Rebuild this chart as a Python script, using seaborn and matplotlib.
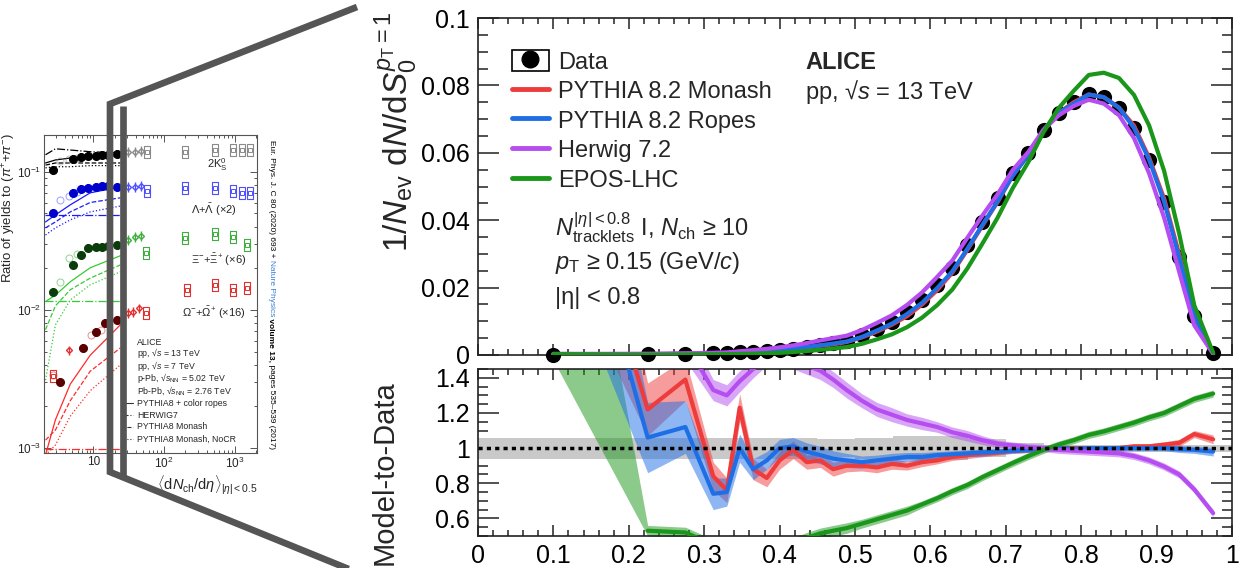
import numpy as np
import pandas as pd
import matplotlib
matplotlib.use("Agg")
import matplotlib.pyplot as plt
import seaborn as sns
from matplotlib.lines import Line2D
from matplotlib.patches import Rectangle
from matplotlib.legend_handler import HandlerTuple
from matplotlib.ticker import (MultipleLocator, FixedLocator, FixedFormatter,
                               FuncFormatter, LogLocator, NullFormatter)

sns.set_theme(style="ticks")
plt.rcParams['font.family'] = ['Liberation Sans', 'DejaVu Sans']
plt.rcParams['mathtext.fontset'] = 'custom'
plt.rcParams['mathtext.rm'] = 'Liberation Sans'
plt.rcParams['mathtext.it'] = 'Liberation Sans:italic'
plt.rcParams['mathtext.bf'] = 'Liberation Sans:bold'
plt.rcParams['mathtext.sf'] = 'Liberation Sans'

# ---------------- main chart data (spherocity) ----------------
so_x = [0.100, 0.225, 0.275, 0.312, 0.330, 0.347, 0.365, 0.383, 0.400, 0.418,
        0.436, 0.454, 0.471, 0.489, 0.509, 0.529, 0.549, 0.569, 0.589, 0.609,
        0.629, 0.649, 0.669, 0.689, 0.709, 0.730, 0.750, 0.770, 0.790, 0.810,
        0.830, 0.850, 0.870, 0.890, 0.910, 0.930, 0.950, 0.975]
so_data = [0.0001, 0.0002, 0.0003, 0.0005, 0.0006, 0.0008, 0.0010, 0.0012, 0.0015, 0.0019,
           0.0024, 0.0030, 0.0036, 0.0043, 0.0058, 0.0078, 0.0099, 0.0128, 0.0163, 0.0207,
           0.0257, 0.0325, 0.0396, 0.0465, 0.0540, 0.0600, 0.0668, 0.0718, 0.0750, 0.0773,
           0.0765, 0.0734, 0.0674, 0.0580, 0.0455, 0.0290, 0.0115, 0.0005]

ratio_monash = [3.00, 1.22, 1.39, 0.84, 0.76, 1.23, 0.88, 0.83, 0.93, 0.99,
                0.92, 0.93, 0.88, 0.90, 0.90, 0.89, 0.91, 0.90, 0.92, 0.93,
                0.95, 0.96, 0.97, 0.975, 0.985, 0.99, 1.00, 1.00, 1.00, 1.00,
                1.00, 1.00, 1.01, 1.01, 1.02, 1.03, 1.08, 1.05]
ratio_ropes = [3.00, 1.06, 1.12, 0.74, 0.75, 1.00, 0.88, 0.93, 1.00, 1.01,
               0.98, 0.96, 0.94, 0.93, 0.92, 0.93, 0.94, 0.95, 0.95, 0.96,
               0.965, 0.97, 0.975, 0.98, 0.985, 0.99, 1.00, 1.00, 0.995, 1.00,
               1.00, 1.00, 1.00, 1.00, 1.00, 0.995, 0.99, 0.98]
ratio_herwig = [3.00, 1.90, 1.60, 1.33, 1.30, 1.38, 1.45, 1.52, 1.52, 1.50,
                1.47, 1.44, 1.39, 1.33, 1.27, 1.22, 1.19, 1.16, 1.14, 1.12,
                1.09, 1.07, 1.045, 1.025, 1.015, 1.005, 1.00, 0.99, 0.985, 0.98,
                0.975, 0.97, 0.955, 0.93, 0.895, 0.85, 0.765, 0.63]
ratio_epos = [2.50, 0.53, 0.52, 0.45, 0.42, 0.40, 0.40, 0.41, 0.43, 0.46,
              0.49, 0.515, 0.53, 0.545, 0.57, 0.595, 0.62, 0.645, 0.68, 0.715,
              0.755, 0.79, 0.835, 0.875, 0.915, 0.955, 0.99, 1.02, 1.045, 1.075,
              1.095, 1.12, 1.145, 1.175, 1.20, 1.24, 1.28, 1.31]

err_monash = [0.80, 0.15, 0.12, 0.08, 0.07, 0.08, 0.06, 0.05, 0.05, 0.05,
              0.04, 0.04, 0.04, 0.035, 0.03, 0.03, 0.03, 0.025, 0.025, 0.02,
              0.02, 0.02, 0.02, 0.015, 0.015, 0.015, 0.015, 0.015, 0.015, 0.015,
              0.015, 0.015, 0.015, 0.015, 0.015, 0.02, 0.02, 0.025]
err_ropes = [0.80, 0.20, 0.15, 0.09, 0.08, 0.08, 0.06, 0.05, 0.05, 0.05,
             0.05, 0.05, 0.045, 0.04, 0.035, 0.03, 0.03, 0.025, 0.025, 0.02,
             0.02, 0.02, 0.02, 0.015, 0.015, 0.015, 0.015, 0.015, 0.015, 0.015,
             0.015, 0.015, 0.015, 0.015, 0.015, 0.02, 0.02, 0.025]
err_herwig = [0.80, 0.15, 0.10, 0.06, 0.06, 0.06, 0.05, 0.05, 0.05, 0.05,
              0.05, 0.05, 0.045, 0.045, 0.04, 0.04, 0.04, 0.035, 0.035, 0.03,
              0.03, 0.03, 0.025, 0.02, 0.02, 0.02, 0.02, 0.02, 0.02, 0.02,
              0.02, 0.02, 0.02, 0.02, 0.02, 0.02, 0.02, 0.02]
err_epos = [1.00, 0.03, 0.03, 0.03, 0.03, 0.03, 0.03, 0.03, 0.03, 0.03,
            0.03, 0.03, 0.03, 0.03, 0.025, 0.025, 0.025, 0.025, 0.02, 0.02,
            0.02, 0.02, 0.02, 0.02, 0.02, 0.02, 0.02, 0.02, 0.02, 0.02,
            0.02, 0.02, 0.02, 0.02, 0.02, 0.02, 0.02, 0.02]

# data uncertainty band in the ratio panel
band_x = [0.0, 0.45, 0.50, 0.55, 0.60, 0.65, 0.70, 0.75, 1.0]
band_half = [0.06, 0.05, 0.06, 0.07, 0.07, 0.05, 0.03, 0.02, 0.02]

model_names = ['PYTHIA 8.2 Monash', 'PYTHIA 8.2 Ropes', 'Herwig 7.2', 'EPOS-LHC']
model_colors = ['#ee3b3b', '#1e6fe6', '#b54df0', '#1a961a']

# ---------------- inset data (strangeness enhancement) ----------------
mult_pp13 = [2.7, 5.1, 6.6, 8.5, 10.7, 13.4, 16.3, 21.8]
k0s_pp13 = [0.103, 0.124, 0.128, 0.131, 0.131, 0.133, 0.133, 0.135]
lam_pp13 = [0.0505, 0.0705, 0.0753, 0.0766, 0.0779, 0.0792, 0.0792, 0.0779]
xi_pp13 = [0.0135, 0.0212, 0.0251, 0.0281, 0.0286, 0.0286, 0.0291, 0.0296]
mult_om_pp13 = [3.4, 7.2, 10.7, 14.8, 21.8]
om_pp13 = [0.0030, 0.0053, 0.0069, 0.0081, 0.0085]

mult_pp7 = [3.4, 4.5, 5.8]
k0s_pp7 = [0.120, 0.124, 0.126]
lam_pp7 = [0.0627, 0.0670, 0.0716]
xi_pp7 = [0.0160, 0.0238, 0.0255]
mult_om_pp7 = [2.7, 9.1, 12.6]
om_pp7 = [0.0034, 0.0066, 0.0072]

mult_ppb = [31.1, 39.1, 47.4]
k0s_ppb = [0.140, 0.140, 0.142]
lam_ppb = [0.0779, 0.0779, 0.0792]
xi_ppb = [0.0322, 0.0338, 0.0344]
mult_om_ppb = [4.5, 31.1, 36.5, 44.5]
om_ppb = [0.0051, 0.0095, 0.0097, 0.0103]

mult_pbpb = [57.7, 198, 522, 937, 1256, 1626]
k0s_pbpb = [0.140, 0.140, 0.144, 0.144, 0.144, 0.144]
lam_pbpb = [0.0728, 0.0766, 0.0766, 0.0728, 0.0705, 0.0705]
mult_xi_pbpb = [55.7, 198, 522, 937, 1476]
xi_pbpb = [0.0259, 0.0332, 0.0356, 0.0338, 0.0296]
mult_om_pbpb = [2.7, 55.7, 211, 522, 937, 1476]
om_pbpb = [0.0033, 0.0095, 0.0140, 0.0152, 0.0140, 0.0145]

mult_model = [2.1, 2.9, 4.7, 9.0, 24.0]
k0s_ropes = [0.116, 0.122, 0.126, 0.128, 0.131]
k0s_herwig = [0.133, 0.147, 0.144, 0.140, 0.137]
k0s_monash = [0.112, 0.116, 0.116, 0.116, 0.116]
k0s_nocr = [0.107, 0.109, 0.109, 0.111, 0.111]
lam_ropes = [0.0434, 0.0488, 0.0577, 0.0705, 0.0779]
lam_herwig = [0.049, 0.049, 0.049, 0.049, 0.049]
lam_monash = [0.0393, 0.0434, 0.0513, 0.0600, 0.0649]
lam_nocr = [0.0349, 0.0393, 0.0449, 0.0513, 0.0566]
xi_ropes = [0.0115, 0.0128, 0.0160, 0.0202, 0.0247]
xi_herwig = [0.0116, 0.0116, 0.0116, 0.0116, 0.0116]
xi_monash = [0.0072, 0.0107, 0.0140, 0.0170, 0.0212]
xi_nocr = [0.0031, 0.0078, 0.0118, 0.0152, 0.0189]
om_ropes = [0.00089, 0.0016, 0.0029, 0.0047, 0.0078]
om_herwig = [0.00098, 0.00098, 0.00098, 0.00098, 0.00098]
om_monash = [0.00114, 0.00135, 0.0022, 0.0036, 0.0053]
om_nocr = [0.00089, 0.00105, 0.0017, 0.0026, 0.0040]

# ---------------- figure ----------------
W, H = 1248, 568
fig = plt.figure(figsize=(W / 100, H / 100), dpi=100)
fig.patch.set_facecolor('white')


def fx(px):
    return px / W


def fy(py):
    return 1 - py / H


ax1 = fig.add_axes([fx(478), fy(355), fx(1232) - fx(478), fy(18) - fy(355)])
ax2 = fig.add_axes([fx(478), fy(536), fx(1232) - fx(478), fy(369) - fy(536)])
ins = fig.add_axes([fx(44), fy(453), fx(257) - fx(44), fy(135) - fy(453)])

# ---- top panel ----
sns.scatterplot(x=so_x, y=so_data, ax=ax1, color='black', s=120, linewidth=0,
                zorder=3, clip_on=False, legend=False)
ratios = [ratio_monash, ratio_ropes, ratio_herwig, ratio_epos]
draw_order = [3, 0, 1, 2]
for i in draw_order:
    model_y = np.array(so_data) * np.array(ratios[i])
    sns.lineplot(x=so_x, y=model_y, ax=ax1, color=model_colors[i], lw=3,
                 zorder=4 + i, sort=False, estimator=None, legend=False)

ax1.set_xlim(0, 1)
ax1.set_ylim(0, 0.1)
ax1.xaxis.set_major_locator(MultipleLocator(0.1))
ax1.xaxis.set_minor_locator(MultipleLocator(0.02))
ax1.yaxis.set_major_locator(MultipleLocator(0.02))
ax1.yaxis.set_minor_locator(MultipleLocator(0.005))
ax1.yaxis.set_major_formatter(FuncFormatter(lambda v, p: f'{v:g}'))
ax1.set_xlabel('')
ax1.set_ylabel('')

data_handle = (Rectangle((0, 0), 1, 1, facecolor='white', edgecolor='black', lw=1.2),
               Line2D([], [], marker='o', color='black', ls='none', ms=12))
handles = [data_handle] + [Line2D([], [], color=c, lw=3.5) for c in model_colors]
labels = ['Data'] + model_names
ax1.legend(handles, labels, loc='upper left', bbox_to_anchor=(0.045, 0.905),
           frameon=False, fontsize=17, handlelength=1.55, handleheight=1.0,
           handletextpad=0.4, labelspacing=0.25, borderpad=0, borderaxespad=0,
           handler_map={tuple: HandlerTuple(ndivide=1)})

ax1.text(0.434, 0.869, 'ALICE', transform=ax1.transAxes, fontsize=17,
         fontweight='bold', va='center', ha='left')
ax1.text(0.434, 0.780, 'pp, √$s$ = 13 TeV', transform=ax1.transAxes, fontsize=17,
         va='center', ha='left')
ax1.text(0.102, 0.377, r'$N_{\rm tracklets}^{|\eta|<0.8}$ I, $N_{\rm ch}$ ≥ 10',
         transform=ax1.transAxes, fontsize=17, va='center', ha='left')
ax1.text(0.102, 0.273, r'$p_{\rm T}$ ≥ 0.15 (GeV/$c$)', transform=ax1.transAxes,
         fontsize=17, va='center', ha='left')
ax1.text(0.102, 0.169, '|η| < 0.8', transform=ax1.transAxes, fontsize=17,
         va='center', ha='left')

# ---- ratio panel ----
ax2.fill_between(band_x, [1 - h for h in band_half], [1 + h for h in band_half],
                 step='post', color='#c9c9c9', lw=0, zorder=1)
errs = [err_monash, err_ropes, err_herwig, err_epos]
for i in draw_order:
    r = np.array(ratios[i])
    e = np.array(errs[i])
    ax2.fill_between(so_x, r - e, r + e, color=model_colors[i], alpha=0.5, lw=0,
                     zorder=2)
for i in draw_order:
    start = 1 if i == 3 else 0
    sns.lineplot(x=so_x[start:], y=ratios[i][start:], ax=ax2, color=model_colors[i],
                 lw=3, zorder=4 + i, sort=False, estimator=None, legend=False)
ax2.axhline(1.0, color='black', ls=(0, (1.2, 1.2)), lw=2.5, zorder=9)

ax2.set_xlim(0, 1)
ax2.set_ylim(0.5, 1.45)
ax2.xaxis.set_major_locator(MultipleLocator(0.1))
ax2.xaxis.set_minor_locator(MultipleLocator(0.02))
ax2.yaxis.set_major_locator(MultipleLocator(0.2))
ax2.yaxis.set_minor_locator(MultipleLocator(0.05))
ax2.xaxis.set_major_formatter(FuncFormatter(lambda v, p: f'{v:g}'))
ax2.yaxis.set_major_formatter(FuncFormatter(lambda v, p: f'{v:g}'))
ax2.set_xlabel('')
ax2.set_ylabel('')

for ax, ylen, xlen in [(ax1, 15, 8), (ax2, 15, 8)]:
    ax.tick_params(axis='both', which='both', direction='in', top=True, right=True,
                   width=1.1, color='#222222', labelcolor='black')
    ax.tick_params(axis='y', which='major', length=ylen, labelsize=18, pad=6)
    ax.tick_params(axis='y', which='minor', length=ylen / 2)
    ax.tick_params(axis='x', which='major', length=xlen, labelsize=18, pad=6)
    ax.tick_params(axis='x', which='minor', length=xlen / 2)
    for sp in ax.spines.values():
        sp.set_linewidth(1.2)
        sp.set_color('#222222')
ax1.tick_params(axis='x', labelbottom=False)

fig.text(fx(396), fy(252), r'1/$N_{\rm ev}$ d$N$/d$S_0^{p_{\rm T}=1}$', rotation=90,
         ha='center', va='bottom', fontsize=24)
fig.text(fx(385), fy(565), 'Model-to-Data', rotation=90, ha='center', va='bottom',
         fontsize=21)

# ---- inset ----
ins.set_xscale('log')
ins.set_yscale('log')
ins.set_xlim(2.0, 2050)
ins.set_ylim(9.2e-4, 0.185)

box_marker = [(-1, -2.3), (1, -2.3), (1, 2.3), (-1, 2.3), (-1, -2.3)]
species = [
    (k0s_pp13, mult_pp13, k0s_pp7, mult_pp7, k0s_ppb, mult_ppb, k0s_pbpb, mult_pbpb,
     '#000000', '#8a8a8a'),
    (lam_pp13, mult_pp13, lam_pp7, mult_pp7, lam_ppb, mult_ppb, lam_pbpb, mult_pbpb,
     '#0000cd', '#4f4fff'),
    (xi_pp13, mult_pp13, xi_pp7, mult_pp7, xi_ppb, mult_ppb, xi_pbpb, mult_xi_pbpb,
     '#0a3d0a', '#3fae3f'),
    (om_pp13, mult_om_pp13, om_pp7, mult_om_pp7, om_ppb, mult_om_ppb, om_pbpb,
     mult_om_pbpb, '#5a0000', '#e03030'),
]
for (y13, x13, y7, x7, yp, xp, yb, xb, dark, light) in species:
    ins.plot(xb, yb, ls='none', marker=box_marker, ms=9, mfc='none', mec=light,
             mew=0.8, zorder=3)
    ins.plot(xb, yb, ls='none', marker='s', ms=3.5, mfc='none', mec=light,
             mew=0.7, zorder=3)
    ins.plot(x7, y7, ls='none', marker='o', ms=5, mfc='none', mec=light,
             mew=0.7, alpha=0.55, zorder=3)
    ins.errorbar(xp, yp, yerr=np.array(yp) * 0.08, fmt='D', ms=3, mfc='none',
                 mec=light, ecolor=light, elinewidth=1.0, zorder=4)
    ins.errorbar(x13, y13, yerr=np.array(y13) * 0.07, fmt='o', ms=5.5, color=dark,
                 elinewidth=1.2, zorder=5)

model_sets = [
    ('#000000', k0s_ropes, k0s_herwig, k0s_monash, k0s_nocr),
    ('#1a1aff', lam_ropes, lam_herwig, lam_monash, lam_nocr),
    ('#33cc33', xi_ropes, xi_herwig, xi_monash, xi_nocr),
    ('#ff2a2a', om_ropes, om_herwig, om_monash, om_nocr),
]
styles = ['-', '-.', '--', ':']
for col, *curves in model_sets:
    for c, st in zip(curves, styles):
        ins.plot(mult_model, c, color=col, ls=st, lw=0.9, zorder=2)

ins.text(560, 0.112, r'2K$^0_{\rm S}$', fontsize=8, ha='center', va='center')
ins.text(500, 0.053, r'$\Lambda$+$\bar{\Lambda}$ (×2)', fontsize=8, ha='center',
         va='center')
ins.text(580, 0.023, r'$\Xi^{-}$+$\bar{\Xi}^{+}$ (×6)', fontsize=8, ha='center',
         va='center')
ins.text(500, 0.0095, r'$\Omega^{-}$+$\bar{\Omega}^{+}$ (×16)', fontsize=8,
         ha='center', va='center')

leg_lines = ['ALICE', 'pp, √$s$ = 13 TeV', 'pp, √$s$ = 7 TeV',
             r'p-Pb, √$s_{\rm NN}$ = 5.02 TeV', r'Pb-Pb, √$s_{\rm NN}$ = 2.76 TeV',
             'PYTHIA8 + color ropes', 'HERWIG7', 'PYTHIA8 Monash',
             'PYTHIA8 Monash, NoCR']
leg_y = [0.349, 0.314, 0.274, 0.236, 0.198, 0.157, 0.119, 0.082, 0.044]
for s, yy in zip(leg_lines, leg_y):
    ins.text(0.437, yy, s, transform=ins.transAxes, fontsize=6.3, va='center',
             ha='left')
for st, yy in zip(styles, leg_y[5:]):
    ins.plot([0.36, 0.42], [yy, yy], transform=ins.transAxes, color='#333333',
             ls=st, lw=0.8)

ins.xaxis.set_major_locator(FixedLocator([10, 100, 1000]))
ins.xaxis.set_major_formatter(FixedFormatter(['10', '$10^2$', '$10^3$']))
ins.xaxis.set_minor_locator(LogLocator(base=10, subs=np.arange(2, 10) * 1.0))
ins.xaxis.set_minor_formatter(NullFormatter())
ins.yaxis.set_major_locator(FixedLocator([1e-3, 1e-2, 1e-1]))
ins.yaxis.set_major_formatter(FixedFormatter(['$10^{-3}$', '$10^{-2}$', '$10^{-1}$']))
ins.yaxis.set_minor_locator(LogLocator(base=10, subs=np.arange(2, 10) * 1.0))
ins.yaxis.set_minor_formatter(NullFormatter())
ins.tick_params(axis='both', which='both', direction='in', top=True, right=True,
                color='#555555', width=0.7, labelsize=8.5, pad=2)
ins.tick_params(which='major', length=5)
ins.tick_params(which='minor', length=2.5)
for sp in ins.spines.values():
    sp.set_linewidth(0.8)
    sp.set_color('#555555')
ins.set_ylabel(r'Ratio of yields to ($\pi^{+}$+$\pi^{-}$)', fontsize=9.5)
ins.yaxis.set_label_coords(-0.122, 0.77)
ins.set_xlabel(r'$\langle$d$N_{\rm ch}$/d$\eta\rangle_{|\eta|<0.5}$', fontsize=10.5,
               loc='right', labelpad=2)

# ---- zoom connector (grey bars) ----
fig.add_artist(Line2D([fx(357), fx(110), fx(110), fx(356)],
                      [fy(7), fy(104), fy(472), fy(572)],
                      transform=fig.transFigure, color='#555555', lw=4.8,
                      solid_joinstyle='miter', solid_capstyle='butt', zorder=20))
fig.add_artist(Line2D([fx(123), fx(123)], [fy(106), fy(476)],
                      transform=fig.transFigure, color='#555555', lw=4.8,
                      solid_capstyle='butt', zorder=20))

# ---- citation (vertical) ----
renderer = fig.canvas.get_renderer()
cur_y = fy(140)
parts = [('Eur. Phys. J. C 80 (2020) 693 + ', 'black', 'normal'),
         ('Nature Physics', '#3a7fd5', 'normal'),
         (' volume 13,', 'black', 'bold'),
         (' pages 535–539 (2017)', 'black', 'normal')]
for s, c, w in parts:
    t = fig.text(fx(271), cur_y, s, rotation=-90, ha='center', va='top',
                 fontsize=6, color=c, fontweight=w)
    bb = t.get_window_extent(renderer=renderer)
    cur_y = bb.y0 / fig.bbox.height

fig.savefig('out.png', dpi=100)
